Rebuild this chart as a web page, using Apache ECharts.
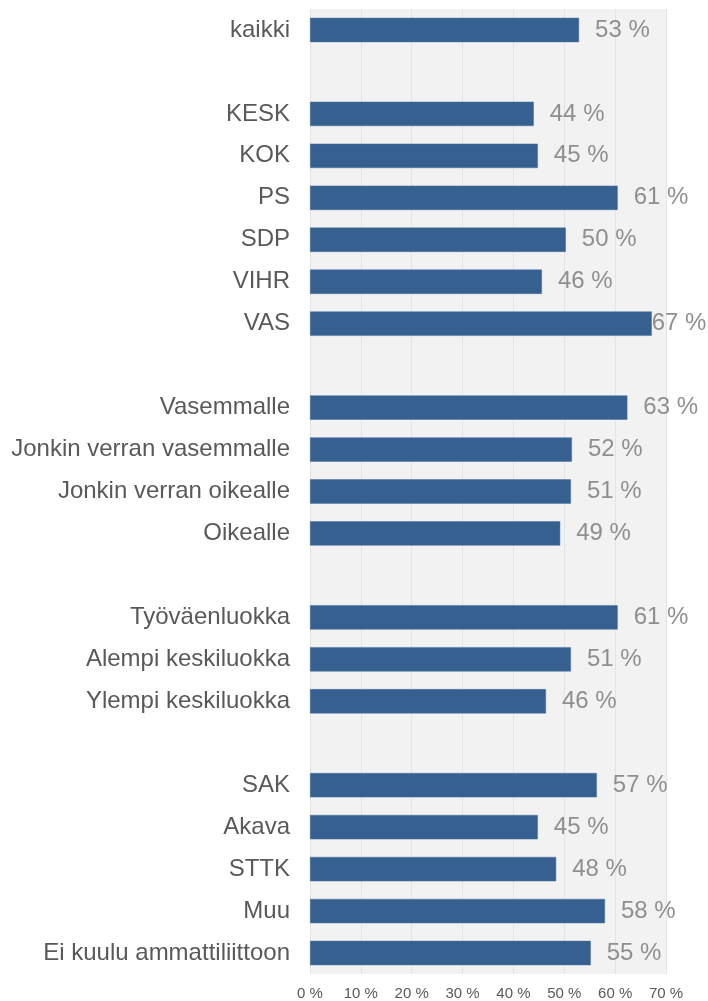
<!DOCTYPE html>
<html><head><meta charset="utf-8">
<script src="https://cdn.jsdelivr.net/npm/echarts@6/dist/echarts.min.js"></script>
<style>html,body{margin:0;padding:0;background:#fff}#c{width:708px;height:1001px}</style>
</head><body><div id="c"></div>
<script>
const categories = ['kaikki','', 'KESK','KOK','PS','SDP','VIHR','VAS','', 'Vasemmalle','Jonkin verran vasemmalle','Jonkin verran oikealle','Oikealle','', 'Työväenluokka','Alempi keskiluokka','Ylempi keskiluokka','', 'SAK','Akava','STTK','Muu','Ei kuulu ammattiliittoon'];
const values = [52.9,null, 44.0,44.8,60.5,50.3,45.6,67.2,null, 62.4,51.5,51.3,49.2,null, 60.5,51.3,46.4,null, 56.4,44.8,48.4,58.0,55.2];
const valueLabels = ['53 %','', '44 %','45 %','61 %','50 %','46 %','67 %','', '63 %','52 %','51 %','49 %','', '61 %','51 %','46 %','', '57 %','45 %','48 %','58 %','55 %'];
const xTicks = [0,10,20,30,40,50,60,70];

const chart = echarts.init(document.getElementById('c'), null, {renderer:'canvas'});
const data = values.map((v,i)=>{
  const d = {value:v};
  if (v !== null && v > 65) d.label = {distance: 0};
  return d;
});
chart.setOption({
  animation:false,
  grid:{left:310,right:42,top:9,height:966,show:true,backgroundColor:'#f2f2f2',borderWidth:0,containLabel:false},
  xAxis:{type:'value',min:xTicks[0],max:xTicks[xTicks.length-1],interval:10,
    axisLine:{show:false},axisTick:{show:false},
    splitLine:{show:true,lineStyle:{color:'#e4e4e4',width:1}},
    axisLabel:{formatter:'{value} %',color:'#595959',fontSize:15,fontFamily:'Liberation Sans, Arial',margin:12}},
  yAxis:{type:'category',data:categories,inverse:true,
    axisLine:{show:false},axisTick:{show:false},splitLine:{show:false},
    axisLabel:{color:'#595959',fontSize:24,fontFamily:'Liberation Sans, Arial',margin:20}},
  series:[{type:'bar',data:data,barWidth:'58%',
    itemStyle:{color:'#36608f',borderColor:'#4a72a0',borderWidth:0.5},
    label:{show:true,position:'right',distance:16,color:'#8f8f8f',fontSize:24,fontFamily:'Liberation Sans, Arial',
      formatter:p=>valueLabels[p.dataIndex]}}]
});
</script></body></html>
